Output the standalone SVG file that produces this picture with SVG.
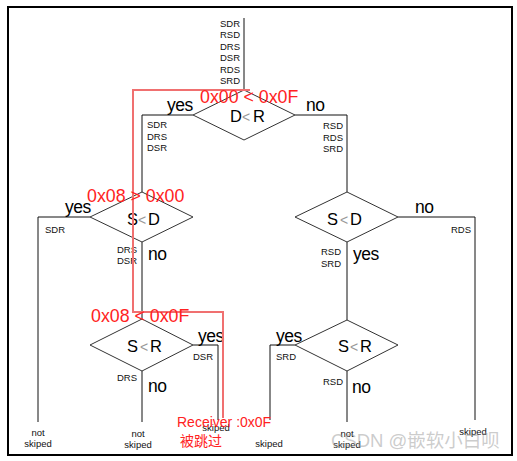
<svg xmlns="http://www.w3.org/2000/svg" width="517" height="461" viewBox="0 0 517 461">
<style>
text{font-family:"Liberation Sans",Arial,sans-serif;}
.s{font-size:9.5px;fill:#111;}
.r{text-anchor:end;}
.m{text-anchor:middle;}
.yn{font-size:17.5px;fill:#000;letter-spacing:-0.5px;}
.dl{font-size:16.5px;fill:#000;}
.lt{fill:#999;font-size:14px;}
.dia{fill:#fff;stroke:#333;stroke-width:1;}
.ln{fill:none;stroke:#111;stroke-width:1;}
.red{fill:none;stroke:#f07070;stroke-width:2;}
.rt{fill:#f22;font-size:17.8px;}
.rs{fill:#f22;font-size:14px;}
</style>
<rect x="8" y="7" width="504" height="448" fill="#fff" stroke="#000" stroke-width="2"/>
<g id="connectors">
<path class="ln" d="M244,18 V90"/>
<path class="ln" d="M193,115 H142 V192"/>
<path class="ln" d="M295,115 H347 V192"/>
<path class="ln" d="M90,217 H38 V422"/>
<path class="ln" d="M142,242 V319"/>
<path class="ln" d="M398,217 H475 V420"/>
<path class="ln" d="M347,242 V320"/>
<path class="ln" d="M193,345 H218 V420"/>
<path class="ln" d="M142,371 V422"/>
<path class="ln" d="M295,345 H270 V420"/>
<path class="ln" d="M347,371 V422"/>
</g>
<g id="start">
<text class="s r" x="240" y="27">SDR</text>
<text class="s r" x="240" y="38">RSD</text>
<text class="s r" x="240" y="50">DRS</text>
<text class="s r" x="240" y="61">DSR</text>
<text class="s r" x="240" y="73">RDS</text>
<text class="s r" x="240" y="84">SRD</text>
</g>
<g id="d1">
<polygon class="dia" points="244,90 295,115 244,140 193,115"/>
<text class="dl" y="122"><tspan x="230">D</tspan><tspan class="lt" x="242">&lt;</tspan><tspan x="253">R</tspan></text>
<text class="yn" x="167" y="111">yes</text>
<text class="yn" x="306" y="111">no</text>
<text class="s" x="147" y="128">SDR</text>
<text class="s" x="147" y="140">DRS</text>
<text class="s" x="147" y="151">DSR</text>
<text class="s r" x="343" y="129">RSD</text>
<text class="s r" x="343" y="141">RDS</text>
<text class="s r" x="343" y="152">SRD</text>
</g>
<g id="d2">
<polygon class="dia" points="142,192 193,217 142,242 90,217"/>
<text class="dl" y="225"><tspan x="127">S</tspan><tspan class="lt" x="138">&lt;</tspan><tspan x="148">D</tspan></text>
<text class="yn" x="65" y="213">yes</text>
<text class="s" x="45" y="233">SDR</text>
<text class="s r" x="137" y="253">DRS</text>
<text class="s r" x="137" y="264">DSR</text>
<text class="yn" x="148" y="260">no</text>
</g>
<g id="d3">
<polygon class="dia" points="347,192 398,217 347,242 295,217"/>
<text class="dl" y="225"><tspan x="327">S</tspan><tspan class="lt" x="340">&lt;</tspan><tspan x="350">D</tspan></text>
<text class="yn" x="415" y="213">no</text>
<text class="s r" x="471" y="233">RDS</text>
<text class="s r" x="341" y="255">RSD</text>
<text class="s r" x="341" y="267">SRD</text>
<text class="yn" x="353" y="260">yes</text>
</g>
<g id="d4">
<polygon class="dia" points="142,319 193,345 142,371 90,345"/>
<text class="dl" y="352"><tspan x="127">S</tspan><tspan class="lt" x="140">&lt;</tspan><tspan x="150">R</tspan></text>
<text class="yn" x="198" y="342">yes</text>
<text class="s" x="193" y="360">DSR</text>
<text class="s r" x="137" y="381">DRS</text>
<text class="yn" x="148" y="392">no</text>
</g>
<g id="d5">
<polygon class="dia" points="347,320 398,345 347,371 295,345"/>
<text class="dl" y="352"><tspan x="338">S</tspan><tspan class="lt" x="350">&lt;</tspan><tspan x="360">R</tspan></text>
<text class="yn" x="276" y="342">yes</text>
<text class="s" x="276" y="360">SRD</text>
<text class="s r" x="343" y="385">RSD</text>
<text class="yn" x="352" y="393">no</text>
</g>
<g id="leaf1"><text class="s m" x="38" y="436">not</text><text class="s m" x="38" y="447">skiped</text></g>
<g id="leaf2"><text class="s m" x="138" y="437">not</text><text class="s m" x="138" y="448">skiped</text></g>
<g id="leaf3"><text class="s m" x="216" y="431">skiped</text></g>
<g id="leaf4"><text class="s m" x="269" y="447">skiped</text></g>
<g id="leaf5"><text class="s m" x="347" y="437">not</text><text class="s m" x="347" y="448">skiped</text></g>
<g id="leaf6"><text class="s m" x="473" y="435">skiped</text></g>
<g id="annotation">
<path class="red" d="M250,90 H133 V312 H223 V418"/>
<text class="rt" x="200" y="103">0x00 &lt; 0x0F</text>
<text class="rt" x="87" y="202">0x08 &gt; 0x00</text>
<text class="rt" x="91" y="322">0x08 &lt; 0x0F</text>
<text class="rs" x="177" y="427">Receiver :0x0F</text>
<text class="rs" x="180" y="446" style="font-family:'Noto Sans CJK SC',sans-serif">被跳过</text>
</g>
<text x="331" y="447" style="font-family:'Liberation Sans','Noto Sans CJK SC',sans-serif;font-size:18.5px;fill:#999;fill-opacity:0.5">CSDN @嵌软小白呗</text>
</svg>
